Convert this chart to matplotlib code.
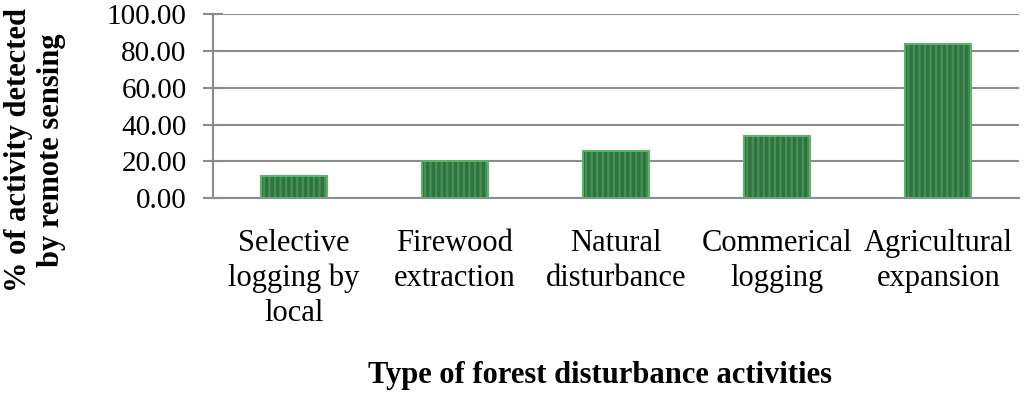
"""Bar chart: share of forest disturbance activities detected by remote sensing."""

import matplotlib.pyplot as plt
import numpy as np

categories = [
    "Selective\nlogging by\nlocal",
    "Firewood\nextraction",
    "Natural\ndisturbance",
    "Commerical\nlogging",
    "Agricultural\nexpansion",
]
detected_pct = [11.8, 20.0, 25.8, 34.0, 84.0]
y_ticks = [0, 20, 40, 60, 80, 100]

plt.rcParams["font.family"] = ["Liberation Serif", "DejaVu Serif"]
plt.rcParams["hatch.linewidth"] = 1.6

fig = plt.figure(figsize=(10.24, 3.93), dpi=100)
ax = fig.add_axes([0.208, 0.496, 0.787, 0.468])

x = np.arange(len(categories))
grid_color = "#8c8c8c"

ax.bar(x, detected_pct, width=0.41, color="#2f7440", edgecolor="#56b565",
       linewidth=1.4, zorder=3)
# light vertical streaks like the original's texture
ax.bar(x, detected_pct, width=0.41, color="none", edgecolor=(0.45, 0.78, 0.5, 0.35),
       hatch="|||", linewidth=0, zorder=4)

ax.set_xlim(-0.5, len(categories) - 0.5)
ax.set_ylim(0, 100)
ax.set_yticks(y_ticks)
ax.set_yticklabels([f"{v:.2f}" for v in y_ticks])
ax.set_xticks(x)
ax.set_xticklabels(categories, linespacing=1.27)

ax.yaxis.grid(True, color=grid_color, linewidth=1.5, zorder=0)
ax.set_axisbelow(True)
for side in ("top", "right"):
    ax.spines[side].set_visible(False)
for side in ("left", "bottom"):
    ax.spines[side].set_color(grid_color)
    ax.spines[side].set_linewidth(1.5)

ax.tick_params(axis="y", direction="inout", length=14, width=1.5, color=grid_color,
               labelsize=21, pad=12)
ax.tick_params(axis="x", length=0, labelsize=22, pad=22)

fig.text(0.034, 0.618, "% of activity detected\nby remote sensing", rotation=90,
         ha="center", va="center", fontsize=22, fontweight="bold", linespacing=1.2)
fig.text(0.586, 0.045, "Type of forest disturbance activities", ha="center",
         va="center", fontsize=22, fontweight="bold")

fig.savefig("out.png", dpi=100)
plt.close(fig)
